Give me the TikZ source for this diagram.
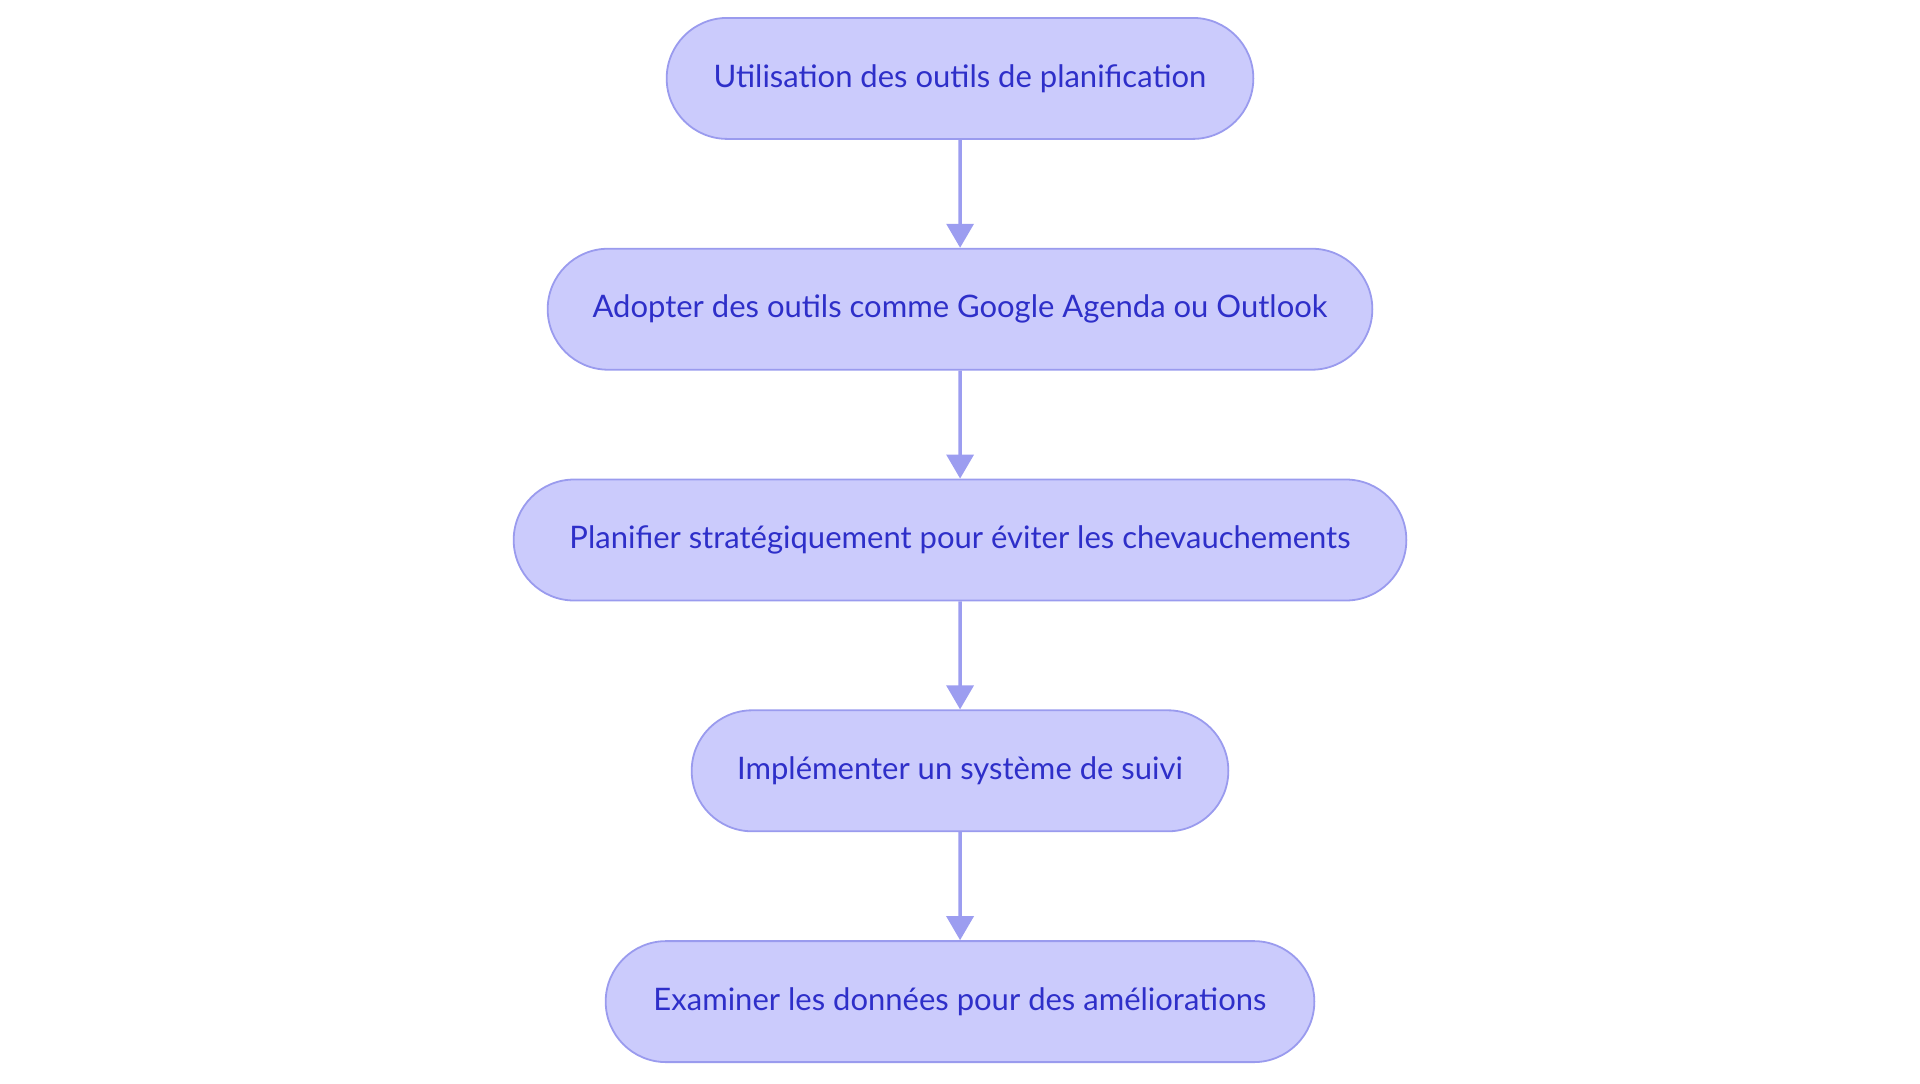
\documentclass[tikz,border=0pt]{standalone}
\usepackage{fontspec}
\setmainfont{Lato}
\usepackage{xcolor}
\usetikzlibrary{positioning,shapes.misc,arrows.meta}
\definecolor{boxfill}{HTML}{CBCBFC}
\definecolor{boxline}{HTML}{9A9BEE}
\definecolor{boxtext}{HTML}{2E2FC9}
\definecolor{arrowc}{HTML}{9C9DF0}
\tikzset{
  stepnode/.style={rounded rectangle, draw=boxline, line width=0.9pt, fill=boxfill,
    text=boxtext, minimum height=60.5pt, font=\fontsize{15.5}{18}\selectfont},
  flow/.style={arrowc, line width=1.7pt, -{Triangle[width=13.5pt,length=12pt]}}
}
\begin{document}
\begin{tikzpicture}[node distance=54pt]
        \useasboundingbox (0,0) rectangle (960pt,-541.5pt);
        \node[stepnode, minimum width=300pt] (s1) at (480pt,-39.2pt) {Utilisation des outils de planification};
        \node[stepnode, minimum width=419pt, below=of s1] (s2) {Adopter des outils comme Google Agenda ou Outlook};
        \node[stepnode, minimum width=453pt, below=of s2] (s3) {Planifier stratégiquement pour éviter les chevauchements};
        \node[stepnode, minimum width=275pt, below=of s3] (s4) {Implémenter un système de suivi};
        \node[stepnode, minimum width=361pt, below=of s4] (s5) {Examiner les données pour des améliorations};
        % connectors
        \foreach \a/\b in {s1/s2, s2/s3, s3/s4, s4/s5} {
            \draw[flow] (\a) -- (\b);
        }
    \end{tikzpicture}
\end{document}
